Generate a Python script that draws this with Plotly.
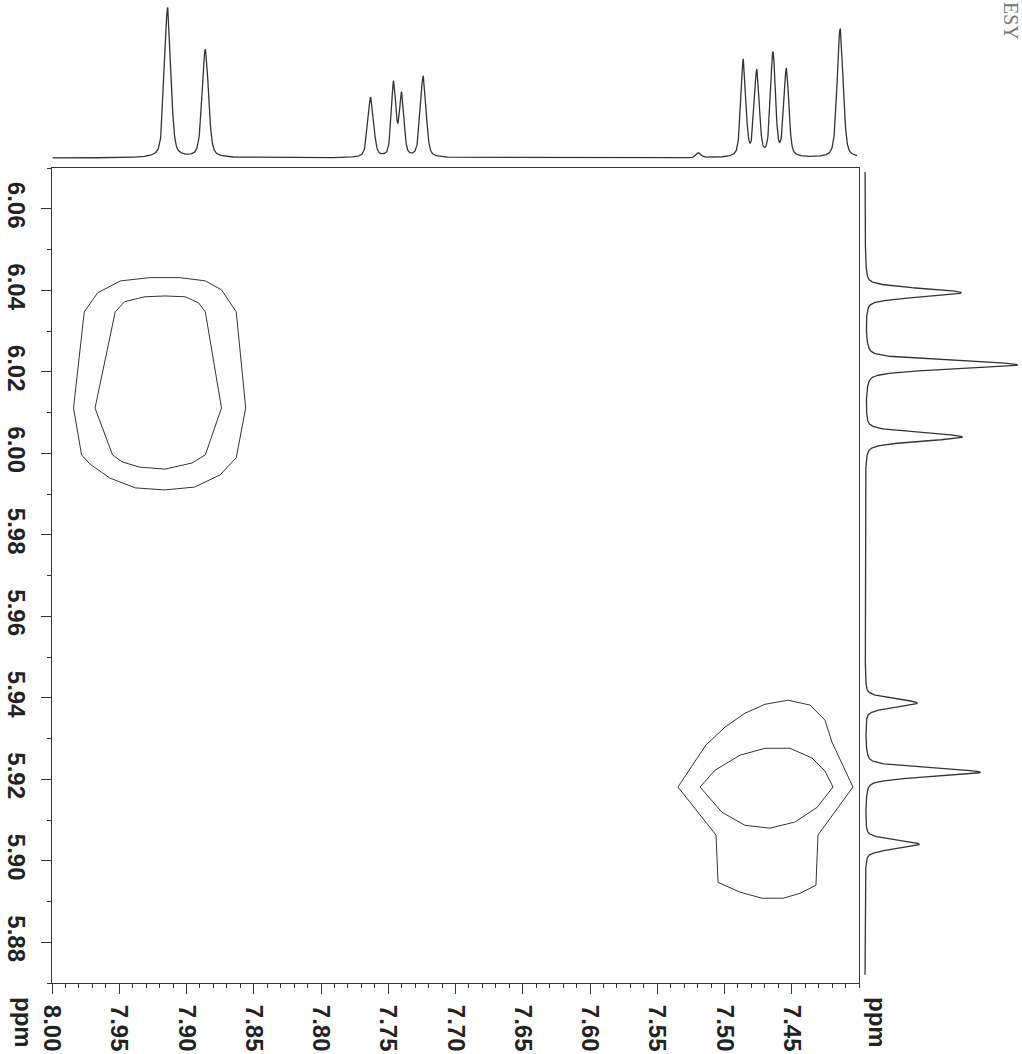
import numpy as np
import plotly.graph_objects as go

# ---------------- data ----------------
x_range = [8.00, 7.40]          # F2 (ppm), reversed
y_range = [5.87, 6.07]          # F1 (ppm)
x_ticks = [8.00, 7.95, 7.90, 7.85, 7.80, 7.75, 7.70, 7.65, 7.60, 7.55, 7.50, 7.45]
y_ticks = [6.06, 6.04, 6.02, 6.00, 5.98, 5.96, 5.94, 5.92, 5.90, 5.88]

# top 1D projection: peak positions (ppm), heights and widths (ppm)
top_pos = [7.914, 7.886, 7.763, 7.746, 7.740, 7.724, 7.519, 7.486, 7.476, 7.464, 7.454, 7.414]
top_height = [150, 108, 60, 74, 62, 81, 5, 97, 85, 103, 87, 129]
top_fwhm = [0.0055, 0.0055, 0.0050, 0.0040, 0.0040, 0.0050, 0.0040, 0.0043, 0.0043, 0.0043, 0.0043, 0.0052]

# side 1D projection: peak positions (ppm), heights and widths (ppm)
side_pos = [6.0394, 6.0217, 6.0040, 5.9387, 5.9217, 5.9040]
side_height = [96, 152, 97, 52, 115, 54]
side_fwhm = [0.0024, 0.0024, 0.0024, 0.0024, 0.0024, 0.0024]

# cross-peak contour vertices (ppm)
c1_outer_x = [7.976, 7.966, 7.949, 7.927, 7.905, 7.886, 7.874, 7.863, 7.856, 7.863, 7.875, 7.894,
              7.916, 7.938, 7.957, 7.972, 7.978, 7.984, 7.976]
c1_outer_y = [6.0347, 6.0394, 6.0423, 6.0431, 6.0431, 6.0423, 6.0401, 6.0347, 6.0111, 5.9989, 5.9947,
              5.9917, 5.9910, 5.9915, 5.9939, 5.9974, 5.9996, 6.0111, 6.0347]
c1_inner_x = [7.953, 7.946, 7.931, 7.916, 7.901, 7.891, 7.886, 7.874, 7.886, 7.896, 7.916, 7.935,
              7.948, 7.955, 7.968, 7.953]
c1_inner_y = [6.0347, 6.0372, 6.0384, 6.0386, 6.0384, 6.0369, 6.0347, 6.0111, 5.9996, 5.9976, 5.9961,
              5.9966, 5.9979, 5.9996, 6.0111, 6.0347]
c2_outer_x = [7.5346, 7.5138, 7.4996, 7.4848, 7.4699, 7.4528, 7.4364, 7.4253, 7.4201, 7.4045, 7.4305,
              7.4320, 7.4439, 7.4565, 7.4721, 7.4885, 7.5048, 7.5063, 7.5346]
c2_outer_y = [5.9181, 5.9284, 5.9328, 5.9362, 5.9384, 5.9394, 5.9382, 5.9345, 5.9291, 5.9181, 5.9063,
              5.8940, 5.8920, 5.8908, 5.8908, 5.8923, 5.8947, 5.9063, 5.9181]
c2_inner_x = [7.5182, 7.5071, 7.4885, 7.4699, 7.4513, 7.4349, 7.4253, 7.4193, 7.4312, 7.4476, 7.4662,
              7.4848, 7.5019, 7.5182]
c2_inner_y = [5.9181, 5.9222, 5.9259, 5.9276, 5.9276, 5.9252, 5.9220, 5.9181, 5.9131, 5.9095, 5.9080,
              5.9087, 5.9119, 5.9181]


def lineshape(axis, positions, heights, fwhms, eta=0.4):
    out = np.zeros_like(axis)
    for p, h, fw in zip(positions, heights, fwhms):
        hw = fw / 2.0
        sig = fw / 2.3548
        d = axis - p
        lor = 1.0 / (1.0 + (d / hw) ** 2)
        gau = np.exp(-d ** 2 / (2 * sig ** 2))
        out += h * (eta * lor + (1 - eta) * gau)
    return out


LINE = "#333333"
W, H = 1022, 1054
fig = go.Figure()

for cx, cy in [(c1_outer_x, c1_outer_y), (c1_inner_x, c1_inner_y),
               (c2_outer_x, c2_outer_y), (c2_inner_x, c2_inner_y)]:
    fig.add_trace(go.Scatter(x=cx, y=cy, mode="lines", line=dict(color=LINE, width=1),
                             xaxis="x", yaxis="y", hoverinfo="skip"))

f2 = np.linspace(7.4015, 7.9995, 3000)
fig.add_trace(go.Scatter(x=f2, y=lineshape(f2, top_pos, top_height, top_fwhm), mode="lines",
                         line=dict(color=LINE, width=1.3), xaxis="x", yaxis="y2", hoverinfo="skip"))

f1 = np.linspace(5.872, 6.069, 3000)
fig.add_trace(go.Scatter(x=lineshape(f1, side_pos, side_height, side_fwhm, eta=0.3), y=f1, mode="lines",
                         line=dict(color=LINE, width=1.3), xaxis="x3", yaxis="y", hoverinfo="skip"))

tickfont = dict(family="Liberation Sans, Arial", size=24, color="#222222", weight="bold")
axis_common = dict(showline=True, linecolor=LINE, linewidth=1, mirror=True, ticks="outside",
                   ticklen=10, tickwidth=1, tickcolor=LINE, showgrid=False, zeroline=False,
                   tickangle=90, tickfont=tickfont, tickformat=".2f", tickmode="array",
                   automargin=False)

fig.update_layout(
    width=W, height=H, margin=dict(l=0, r=0, t=0, b=0, autoexpand=False),
    paper_bgcolor="white", plot_bgcolor="white", showlegend=False,
    xaxis=dict(domain=[52 / W, 859 / W], range=x_range, anchor="y", tickvals=x_ticks,
               ticklabelstandoff=6,
               minor=dict(dtick=0.01, tick0=8.0, ticks="outside", ticklen=4, tickcolor=LINE),
               **axis_common),
    yaxis=dict(domain=[1 - 983 / H, 1 - 168 / H], range=y_range, anchor="x", tickvals=y_ticks,
               ticklabelstandoff=4,
               minor=dict(dtick=0.01, tick0=6.0, ticks="outside", ticklen=4, tickcolor=LINE),
               **axis_common),
    yaxis2=dict(domain=[1 - 162 / H, 1.0], range=[-4, 158], anchor="x", visible=False),
    xaxis3=dict(domain=[862 / W, 1.0], range=[-3, 157], anchor="y", visible=False),
    annotations=[
        dict(text="ppm", x=24 / W, y=1 - 1022 / H, xref="paper", yref="paper", showarrow=False,
             xanchor="center", yanchor="middle", textangle=90, font=tickfont),
        dict(text="ppm", x=878 / W, y=1 - 1022 / H, xref="paper", yref="paper", showarrow=False,
             xanchor="center", yanchor="middle", textangle=90, font=tickfont),
        dict(text="ESY", x=1011 / W, y=1 - 21 / H, xref="paper", yref="paper", showarrow=False,
             xanchor="center", yanchor="middle", textangle=90,
             font=dict(family="Liberation Serif, DejaVu Serif", size=20, color="#777777")),
    ],
)

fig.write_html("out.html", config={"displayModeBar": False},
               post_script="document.body.style.margin='0';")
